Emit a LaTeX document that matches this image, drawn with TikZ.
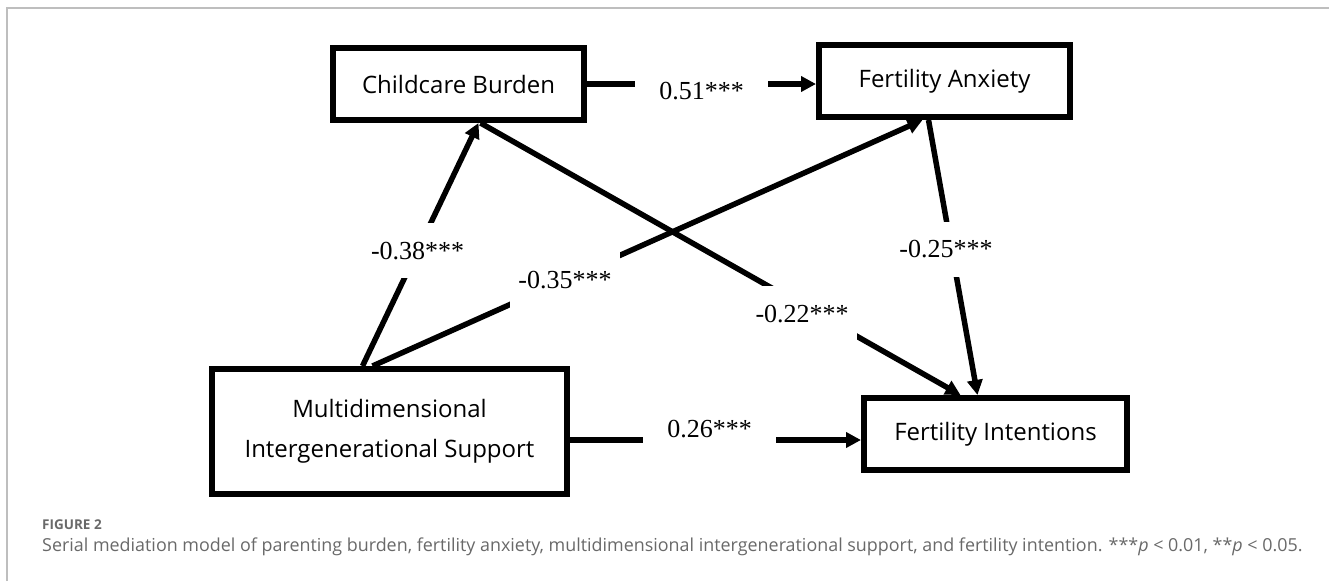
\documentclass[tikz,border=0pt]{standalone}
\usepackage{fontspec}
\setmainfont{Open Sans}
\newfontfamily\coeffont{Liberation Serif}
\usetikzlibrary{arrows.meta}
\definecolor{capgray}{RGB}{105,105,105}
\definecolor{framegray}{RGB}{190,190,190}
\begin{document}
\begin{tikzpicture}[x=1pt,y=-1pt,
    var/.style={draw,line width=6pt,fill=white,minimum width=251pt,minimum height=72pt,
      inner sep=0pt,align=center,font=\fontsize{24}{40}\selectfont},
    link/.style={line width=5.5pt,-{Triangle[length=15pt,width=15pt]}},
    coef/.style={fill=white,inner xsep=8pt,inner ysep=19pt,font=\coeffont\fontsize{26}{30}\selectfont},
    hcoef/.style={coef,inner xsep=24pt,inner ysep=6pt},
    capt/.style={anchor=west,inner sep=0pt,text=capgray}]
  \useasboundingbox (0,0) rectangle (1329,581);
  \draw[framegray,line width=1.5pt] (7,581) -- (7,8) -- (1329,8);
  \node[var] (cb) at (458.5,84) {Childcare Burden}; \node[var] (fa) at (944.5,81) {Fertility Anxiety};
  \node[var,minimum width=355pt,minimum height=125pt] (ms) at (389.5,431.5) {Multidimensional\\Intergenerational Support};
  \node[var,minimum width=263pt] (fi) at (995.5,434) {Fertility Intentions};
  \draw[link] (cb.east) -- node[hcoef,yshift=-7pt] {0.51***} (cb.east -| fa.west);
  \draw[link] ([xshift=-27pt]ms.north) -- node[coef,pos=0.475] {-0.38***} ([xshift=20pt]cb.south);
  \draw[link] ([xshift=-17pt]ms.north) -- node[coef,pos=0.35] {-0.35***} ([xshift=-22pt]fa.south);
  \draw[link] ([xshift=22pt]cb.south) -- node[coef,pos=0.67,yshift=-9pt] {-0.22***} ([xshift=-35pt]fi.north);
  \draw[link] ([xshift=-16pt]fa.south) -- node[coef,pos=0.46,xshift=-5pt,yshift=-3pt] {-0.25***} ([xshift=-18pt]fi.north);
  \draw[link] ([yshift=-8.5pt]ms.east) -- node[hcoef,pos=0.48,yshift=11pt] {0.26***} ([yshift=-8.5pt]ms.east -| fi.west);
  \node[capt,font=\bfseries\fontsize{13.5}{16}\selectfont] (fig) at (42,525) {FIGURE 2};
  \node[capt,font=\fontsize{17.9}{22}\selectfont] (cap) at (42,547) {Serial mediation model of parenting burden, fertility anxiety, multidimensional intergenerational support, and fertility intention. ***\textit{p} < 0.01, **\textit{p} < 0.05.};
\end{tikzpicture}
\end{document}
